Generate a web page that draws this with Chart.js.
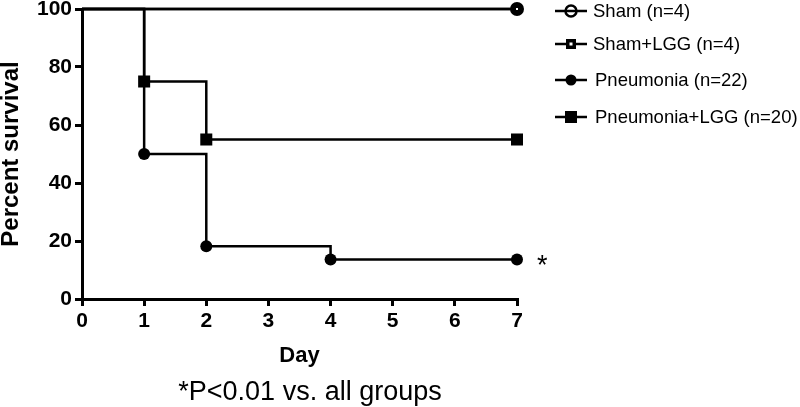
<!DOCTYPE html>
<html>
<head>
<meta charset="utf-8">
<script src="https://cdn.jsdelivr.net/npm/chart.js@4"></script>
<style>
  html, body { margin: 0; padding: 0; background: #fff; }
  #wrap { width: 800px; height: 407px; }
</style>
</head>
<body>
<div id="wrap"><canvas id="survivalChart" width="800" height="407"></canvas></div>
<script>
// values (Kaplan-Meier, percent survival per day)
const shamDays = [0, 7]
const shamSurvival = [100, 100]
const shamLggDays = [0, 7]
const shamLggSurvival = [100, 100]
const pneumoniaDays = [0, 1, 2, 4, 7]
const pneumoniaSurvival = [100, 50, 18.2, 13.6, 13.6]
const pneumoniaLggDays = [0, 1, 2, 7]
const pneumoniaLggSurvival = [100, 75, 55, 55]

const xTicks = [0, 1, 2, 3, 4, 5, 6, 7]
const yTicks = [0, 20, 40, 60, 80, 100]
const legendLabels = ['Sham (n=4)', 'Sham+LGG (n=4)', 'Pneumonia (n=22)', 'Pneumonia+LGG (n=20)']
const xTitle = 'Day'
const yTitle = 'Percent survival'
const footnote = '*P<0.01 vs. all groups'
const starMark = '*'

const FONT = '"Liberation Sans", Arial, sans-serif'
const toPoints = (xs, ys) => xs.map((x, i) => ({ x: x, y: ys[i] }))

// small square with a white hole, used for the Sham+LGG marker
function holeSquare(size, hole) {
    const c = document.createElement('canvas')
    c.width = size
    c.height = size
    const g = c.getContext('2d')
    g.fillStyle = '#000'
    g.fillRect(0, 0, size, size)
    g.fillStyle = '#fff'
    g.fillRect((size - hole) / 2, (size - hole) / 2, hole, hole)
    return c
}

const shamLggMarker = holeSquare(10, 2)
const shamLggLegendMarker = holeSquare(10, 3)

function drawMarker(ctx, kind, x, y) {
    ctx.save()
    ctx.lineWidth = 2.5
    ctx.strokeStyle = '#000'
    if (kind === 'openCircle') {
        ctx.fillStyle = '#fff'
        ctx.beginPath()
        ctx.arc(x, y, 5.5, 0, Math.PI * 2)
        ctx.fill()
        ctx.stroke()
        ctx.beginPath()
        ctx.moveTo(x - 5.5, y)
        ctx.lineTo(x + 5.5, y)
        ctx.stroke()
    } else if (kind === 'holeSquare') {
        ctx.drawImage(shamLggLegendMarker, x - 5, y - 5)
    } else if (kind === 'circle') {
        ctx.fillStyle = '#000'
        ctx.beginPath()
        ctx.arc(x, y, 5.5, 0, Math.PI * 2)
        ctx.fill()
    } else {
        ctx.fillStyle = '#000'
        ctx.fillRect(x - 6, y - 6, 12, 12)
    }
    ctx.restore()
}

const legendMarkers = ['openCircle', 'holeSquare', 'circle', 'square']
const legendRows = [11, 44, 80, 117]

const annotations = {
    id: 'annotations',
    afterDraw(chart) {
        const ctx = chart.ctx
        // legend
        legendLabels.forEach((label, i) => {
            const y = legendRows[i]
            ctx.save()
            ctx.strokeStyle = '#000'
            ctx.lineWidth = 2.5
            ctx.beginPath()
            ctx.moveTo(555, y)
            ctx.lineTo(587, y)
            ctx.stroke()
            ctx.restore()
            drawMarker(ctx, legendMarkers[i], 571, y)
            ctx.save()
            ctx.fillStyle = '#000'
            ctx.font = '18.5px ' + FONT
            ctx.textBaseline = 'middle'
            ctx.textAlign = 'left'
            ctx.fillText(label, i < 2 ? 593 : 595, y + 1)
            ctx.restore()
        })
        // significance star next to the pneumonia curve
        ctx.save()
        ctx.fillStyle = '#000'
        ctx.font = '27px ' + FONT
        ctx.textAlign = 'left'
        ctx.textBaseline = 'alphabetic'
        ctx.fillText(starMark, 537, 274)
        // footnote
        ctx.font = '27px ' + FONT
        ctx.textAlign = 'center'
        ctx.fillText(footnote, 310, 400)
        ctx.restore()
    }
}

const lineStyle = {
    borderColor: '#000',
    backgroundColor: '#000',
    pointBackgroundColor: '#000',
    pointBorderColor: '#000',
    borderWidth: 2.5,
    stepped: 'before',
    fill: false,
    clip: false
}

new Chart(document.getElementById('survivalChart').getContext('2d'), {
    type: 'line',
    data: {
        datasets: [
            Object.assign({}, lineStyle, {
                label: legendLabels[1],
                data: toPoints(shamLggDays, shamLggSurvival),
                pointStyle: shamLggMarker,
                pointRadius: [0, 5]
            }),
            Object.assign({}, lineStyle, {
                label: legendLabels[0],
                data: toPoints(shamDays, shamSurvival),
                pointStyle: 'circle',
                pointRadius: [0, 7],
                pointBorderWidth: 0
            }),
            Object.assign({}, lineStyle, {
                label: legendLabels[2],
                data: toPoints(pneumoniaDays, pneumoniaSurvival),
                pointStyle: 'circle',
                pointRadius: [0, 6, 6, 6, 6],
                pointBorderWidth: 0
            }),
            Object.assign({}, lineStyle, {
                label: legendLabels[3],
                data: toPoints(pneumoniaLggDays, pneumoniaLggSurvival),
                pointStyle: 'rect',
                pointRadius: [0, 8.5, 8.5, 8.5],
                pointBorderWidth: 0
            })
        ]
    },
    options: {
        responsive: false,
        animation: false,
        devicePixelRatio: 1,
        layout: { padding: { top: 9, right: 283, bottom: 38, left: 0 } },
        plugins: {
            legend: { display: false },
            tooltip: { enabled: false }
        },
        scales: {
            x: {
                type: 'linear',
                min: 0,
                max: 7,
                afterBuildTicks: (scale) => { scale.ticks = xTicks.map(v => ({ value: v })) },
                afterFit: (scale) => {
                    scale.height = 70
                    scale.paddingLeft = 0
                    scale.paddingRight = 0
                },
                ticks: {
                    color: '#000',
                    padding: 3,
                    font: { family: FONT, size: 21, weight: 'bold' }
                },
                grid: { drawOnChartArea: false, drawTicks: true, tickLength: 7, color: '#000', lineWidth: 3 },
                border: { color: '#000', width: 3 },
                title: {
                    display: true,
                    text: xTitle,
                    color: '#000',
                    padding: 0,
                    font: { family: FONT, size: 22, weight: 'bold' }
                }
            },
            y: {
                type: 'linear',
                min: 0,
                max: 100,
                afterBuildTicks: (scale) => { scale.ticks = yTicks.map(v => ({ value: v })) },
                afterFit: (scale) => {
                    scale.width = 82
                    scale.paddingTop = 0
                    scale.paddingBottom = 0
                },
                ticks: {
                    color: '#000',
                    padding: 3,
                    font: { family: FONT, size: 21, weight: 'bold' }
                },
                grid: { drawOnChartArea: false, drawTicks: true, tickLength: 7, color: '#000', lineWidth: 3 },
                border: { color: '#000', width: 3 },
                title: {
                    display: true,
                    text: yTitle,
                    color: '#000',
                    padding: { top: -3.5, bottom: 0 },
                    font: { family: FONT, size: 24, weight: 'bold' }
                }
            }
        }
    },
    plugins: [annotations]
})
</script>
</body>
</html>
